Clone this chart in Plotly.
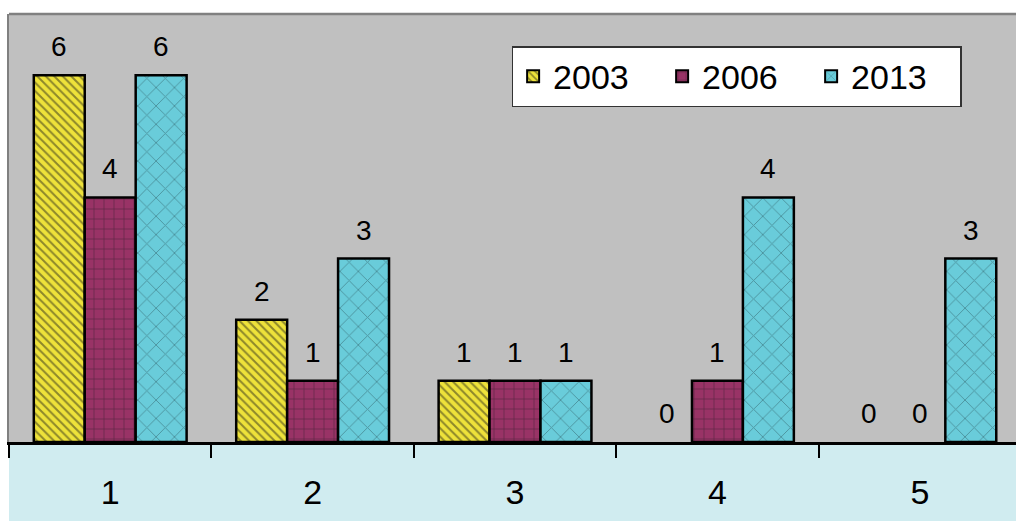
import plotly.graph_objects as go

categories = ["1", "2", "3", "4", "5"]
series_names = ["2003", "2006", "2013"]
values_2003 = [6, 2, 1, 0, 0]
values_2006 = [4, 1, 1, 1, 0]
values_2013 = [6, 3, 1, 4, 3]

all_values = [values_2003, values_2006, values_2013]
colors = ["#EEE23A", "#993366", "#69CCDA"]
shapes_ = ["\\", "+", "x"]
fgcolors = ["#2b2b1a", "#2a1a22", "#2f5a62"]
sizes = [6, 10, 13]
solids = [0.33, 0.14, 0.14]

bargap = 0.245
bar_w = (1 - bargap) / 3

fig = go.Figure()
for j, (name, vals) in enumerate(zip(series_names, all_values)):
    fig.add_trace(go.Bar(
        x=categories, y=vals, name=name,
        marker=dict(
            color=colors[j],
            line=dict(color="black", width=[2.5 if v != 0 else 0 for v in vals]),
            pattern=dict(shape=shapes_[j], fgcolor=fgcolors[j], size=sizes[j],
                         solidity=solids[j], fillmode="overlay"),
        ),
    ))

annotations = []
for j, vals in enumerate(all_values):
    for i, v in enumerate(vals):
        annotations.append(dict(
            x=i + (j - 1) * bar_w, y=v, xref="x", yref="y",
            text=str(v), showarrow=False, yanchor="bottom", yshift=11,
            font=dict(size=28, color="black", family="Liberation Sans, Arial, sans-serif"),
        ))

fig.update_layout(
    width=1016, height=521,
    margin=dict(l=9, r=0, t=14, b=79, pad=0),
    barmode="group", bargap=bargap, bargroupgap=0,
    paper_bgcolor="white", plot_bgcolor="#C0C0C0",
    font=dict(family="Liberation Sans, Arial, sans-serif", color="black"),
    showlegend=True,
    legend=dict(
        orientation="h", x=0.946, xanchor="right", y=0.925, yanchor="top",
        bgcolor="white", bordercolor="#333333", borderwidth=1.5,
        font=dict(size=34), itemsizing="constant", entrywidth=104, itemwidth=30,
    ),
    annotations=annotations,
    shapes=[
        dict(type="rect", xref="paper", yref="paper", x0=0, x1=1.05, y0=-0.2, y1=0,
             fillcolor="#D0ECF0", line=dict(width=0), layer="below"),
        dict(type="line", xref="paper", yref="paper", x0=0, x1=1.05, y0=1, y1=1,
             line=dict(color="#808080", width=2.5)),
    ],
    xaxis=dict(
        type="category", range=[-0.5, 4.475],
        showline=True, linecolor="black", linewidth=3,
        ticks="outside", tickson="boundaries", ticklen=13, tickwidth=2, tickcolor="black",
        tickfont=dict(size=34), ticklabelstandoff=18,
        showgrid=False, zeroline=False,
    ),
    yaxis=dict(
        range=[0, 7], showticklabels=False, ticks="", showgrid=False, zeroline=False,
        showline=True, linecolor="#808080", linewidth=2,
    ),
)

fig.write_html("out.html")
